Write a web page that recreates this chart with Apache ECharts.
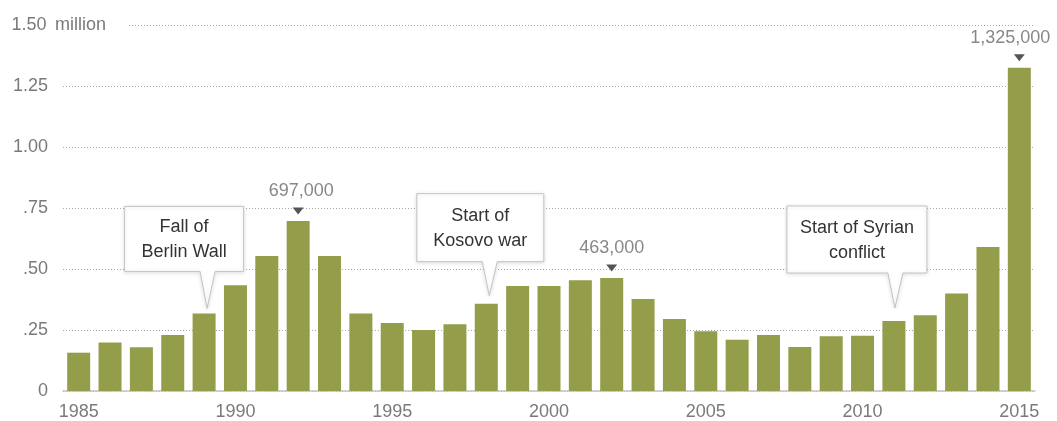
<!DOCTYPE html>
<html>
<head>
<meta charset="utf-8">
<script src="https://cdn.jsdelivr.net/npm/echarts@6/dist/echarts.min.js"></script>
<style>
html,body{margin:0;padding:0;background:#fff;}
#chart{width:1057px;height:421px;}
</style>
</head>
<body>
<div id="chart"></div>
<script>
// ---- data ----
const years = ['1985','1986','1987','1988','1989','1990','1991','1992','1993','1994',
  '1995','1996','1997','1998','1999','2000','2001','2002','2003','2004',
  '2005','2006','2007','2008','2009','2010','2011','2012','2013','2014','2015'];
const values = [0.157,0.199,0.179,0.230,0.318,0.433,0.553,0.697,0.553,0.318,
  0.279,0.250,0.274,0.358,0.430,0.430,0.454,0.463,0.377,0.295,
  0.245,0.210,0.230,0.180,0.224,0.226,0.287,0.310,0.400,0.590,1.325];
const yTickValues = [0, 0.25, 0.5, 0.75, 1.0, 1.25, 1.5];
const yTickLabels = ['0', '.25', '.50', '.75', '1.00', '1.25', '1.50'];
const yUnit = ' million';
const peakYears = ['1992', '2002', '2015'];
const peakLabels = ['697,000', '463,000', '1,325,000'];
const calloutYears = ['1989', '1998', '2011'];
const calloutTexts = ['Fall of\nBerlin Wall', 'Start of\nKosovo war', 'Start of Syrian\nconflict'];

// ---- styles / layout ----
const FONT = '"Liberation Sans", Arial, sans-serif';
const BAR = '#949d4a';
const calloutLayout = [
  {w: 119, h: 65, dx: -23, tipDx: 3, gap: 5, ptr: 37},
  {w: 127, h: 68, dx: -9, tipDx: 3, gap: 8, ptr: 34},
  {w: 140, h: 67, dx: -38, tipDx: 1, gap: 13, ptr: 35}
];
const peakLabelOffsets = [[3, 0], [0, 0], [-9, 0]];

const chart = echarts.init(document.getElementById('chart'), null, {renderer: 'canvas'});

const option = {
  animation: false,
  backgroundColor: '#fff',
  textStyle: {fontFamily: FONT},
  grid: {left: 63, right: 22, top: 25, bottom: 30, containLabel: false},
  xAxis: {
    type: 'category',
    data: years,
    boundaryGap: true,
    axisLine: {show: true, lineStyle: {color: '#c4c4c4', width: 1.5}},
    axisTick: {show: false},
    axisLabel: {interval: 4, color: '#7a7a7a', fontSize: 18, margin: 12, fontFamily: FONT}
  },
  yAxis: {
    type: 'value',
    min: 0, max: 1.5, interval: 0.25,
    axisLine: {show: false},
    axisTick: {show: false},
    splitLine: {show: true, lineStyle: {color: '#a8a8a8', type: [1, 2], width: 1}},
    axisLabel: {
      align: 'left',
      margin: 53,
      formatter: function (v) {
        const i = yTickValues.findIndex(t => Math.abs(t - v) < 1e-6);
        const s = i >= 0 ? yTickLabels[i] : String(v);
        if (Math.abs(v - 1.5) < 1e-6) return '{n|' + s + '}{m|' + yUnit + '}';
        return '{n|' + s + '}';
      },
      rich: {
        n: {width: 38, align: 'right', color: '#7a7a7a', fontSize: 18, fontFamily: FONT},
        m: {color: '#7a7a7a', fontSize: 18, fontFamily: FONT, backgroundColor: '#fff', padding: [2, 22, 2, 2]}
      }
    }
  },
  series: [
    {
      type: 'bar',
      data: values,
      barWidth: 23,
      itemStyle: {color: BAR},
      markPoint: {
        symbol: 'triangle',
        symbolRotate: 180,
        symbolSize: [11, 7],
        symbolOffset: [0, -10],
        itemStyle: {color: '#555'},
        label: {show: true, position: 'top', distance: 7, color: '#888', fontSize: 18, fontFamily: FONT},
        data: peakYears.map((y, i) => ({
          coord: [y, values[years.indexOf(y)]],
          label: {formatter: peakLabels[i], offset: peakLabelOffsets[i]}
        }))
      }
    },
    {
      type: 'custom',
      coordinateSystem: 'cartesian2d',
      z: 10,
      clip: false,
      data: calloutYears.map(y => [y, values[years.indexOf(y)]]),
      renderItem: function (params, api) {
        const i = params.dataIndex;
        const L = calloutLayout[i];
        const p = api.coord([api.value(0), api.value(1)]);
        const tipX = p[0] + L.tipDx;
        const tipY = p[1] - L.gap;
        const bb = tipY - L.ptr;
        const bt = bb - L.h;
        const cx = tipX + L.dx;
        const left = cx - L.w / 2, right = cx + L.w / 2;
        return {
          type: 'group',
          children: [
            {
              type: 'polygon',
              shape: {points: [[left, bt], [right, bt], [right, bb], [tipX + 8, bb], [tipX, tipY], [tipX - 7, bb], [left, bb]]},
              style: {fill: '#fff', stroke: '#c4c4c4', lineWidth: 1, shadowBlur: 4, shadowColor: 'rgba(0,0,0,0.12)', shadowOffsetY: 1}
            },
            {
              type: 'text',
              style: {
                text: calloutTexts[i],
                x: cx, y: (bt + bb) / 2 + 1,
                align: 'center', verticalAlign: 'middle',
                fill: '#333', fontSize: 18, fontFamily: FONT, lineHeight: 25
              }
            }
          ]
        };
      }
    }
  ]
};
chart.setOption(option);
</script>
</body>
</html>
